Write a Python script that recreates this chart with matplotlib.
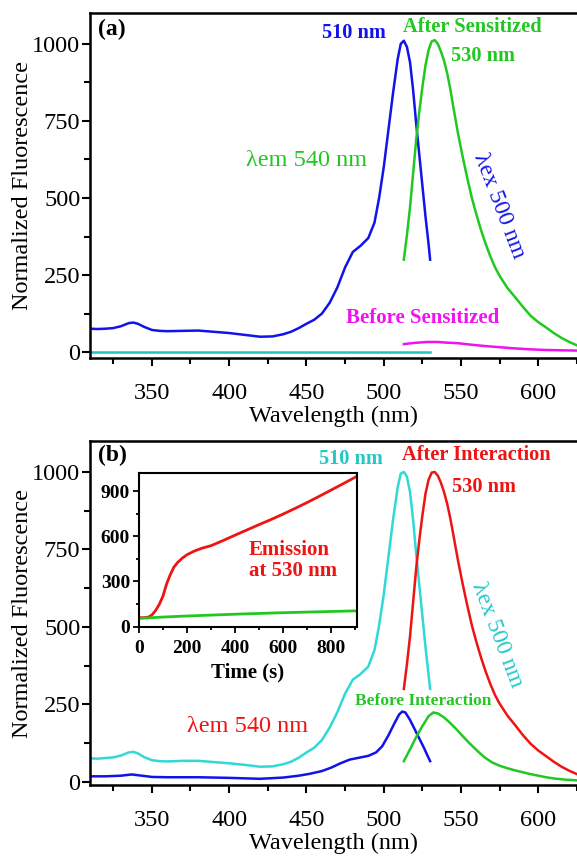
import matplotlib
matplotlib.use('Agg')
import matplotlib.pyplot as plt
from matplotlib.ticker import MultipleLocator

plt.rcParams['font.family'] = ['Liberation Serif', 'DejaVu Serif']

### panel (a) data: excitation (blue), emission after (green), before (magenta), baseline (teal)
ex_a_wl = [310, 315, 320, 325, 330, 335, 338, 341, 345, 350, 355, 360, 370, 380, 390, 400,
           410, 420, 428, 435, 440, 445, 450, 455, 460, 465, 470, 475, 480, 485, 490, 494,
           497, 500, 503, 506, 509, 511, 513, 515, 517, 519, 521, 523, 525, 527, 529, 530]
ex_a_val = [76, 75, 76, 78, 84, 94, 96, 92, 82, 72, 69, 68, 69, 70, 66, 62,
            56, 50, 51, 58, 66, 78, 92, 105, 125, 160, 210, 275, 325, 345, 370, 420,
            500, 600, 720, 840, 950, 1000, 1010, 990, 940, 850, 740, 640, 540, 440, 350, 300]

em_a_wl = [513, 515, 517, 519, 521, 523, 525, 527, 529, 531, 533, 535, 537, 539, 541, 543,
           545, 548, 551, 554, 557, 560, 563, 566, 569, 572, 575, 580, 585, 590, 595, 600,
           605, 610, 615, 620, 625]
em_a_val = [300, 380, 470, 580, 690, 780, 860, 930, 980, 1008, 1012, 1000, 975, 945, 905, 855,
            795, 710, 635, 565, 500, 445, 395, 350, 310, 275, 247, 208, 178, 147, 118, 97,
            80, 62, 46, 33, 22]

before_a_wl = [513, 520, 528, 535, 540, 548, 555, 565, 575, 585, 595, 605, 615, 625]
before_a_val = [26, 30, 33, 33, 31, 29, 25, 20, 16, 12, 9, 7, 6, 5]

base_a_wl = [310, 530]
base_a_val = [0, 0]

### panel (b) data
ex_b_wl = [310, 315, 320, 325, 330, 335, 338, 341, 345, 350, 355, 360, 370, 380, 390, 400,
           410, 420, 428, 435, 440, 445, 450, 455, 460, 465, 470, 475, 480, 485, 490, 494,
           497, 500, 503, 506, 509, 511, 513, 515, 517, 519, 521, 523, 525, 527, 529, 530]
ex_b_val = [76, 75, 77, 79, 85, 95, 97, 92, 80, 70, 67, 66, 68, 68, 64, 60,
            55, 49, 50, 57, 65, 78, 95, 110, 135, 175, 225, 285, 330, 348, 372, 425,
            505, 605, 725, 845, 950, 995, 1000, 985, 935, 845, 735, 635, 535, 435, 345, 300]

em_b_wl = [513, 515, 517, 519, 521, 523, 525, 527, 529, 531, 533, 535, 537, 539, 541, 543,
           545, 548, 551, 554, 557, 560, 563, 566, 569, 572, 575, 580, 585, 590, 595, 600,
           605, 610, 615, 620, 625]
em_b_val = [300, 380, 470, 580, 690, 780, 860, 930, 975, 998, 1000, 988, 965, 935, 898, 852,
            798, 715, 640, 570, 505, 450, 400, 355, 315, 280, 252, 214, 183, 151, 123, 101,
            83, 65, 49, 36, 25]

ex_before_b_wl = [310, 320, 330, 337, 342, 350, 360, 380, 400, 420, 435, 445, 452, 460, 466, 472,
                  478, 484, 490, 495, 499, 503, 507, 510, 512, 514, 517, 520, 523, 526, 528, 530]
ex_before_b_val = [18, 18, 20, 24, 21, 16, 15, 15, 13, 10, 14, 20, 26, 35, 46, 60,
                   72, 78, 84, 95, 115, 150, 190, 218, 227, 224, 200, 170, 140, 110, 88, 67]

em_before_b_wl = [513, 517, 521, 525, 529, 532, 535, 539, 543, 547, 551, 555, 561, 565, 570, 575,
                  580, 585, 590, 595, 600, 605, 610, 618, 625]
em_before_b_val = [67, 105, 145, 180, 212, 224, 221, 208, 190, 170, 148, 127, 98, 80, 63, 52,
                   44, 37, 31, 25, 20, 15, 11, 7, 5]

### inset: emission at 530 nm vs time
time_red = [0, 20, 40, 55, 70, 85, 100, 115, 130, 145, 160, 180, 200, 230, 260, 300,
            350, 400, 450, 500, 550, 600, 650, 700, 750, 800, 850, 900]
red_val = [60, 60, 64, 80, 110, 150, 205, 285, 345, 395, 425, 455, 478, 502, 520, 538,
           572, 608, 643, 678, 712, 748, 786, 825, 866, 908, 950, 993]
time_green = [0, 100, 200, 300, 400, 500, 600, 700, 800, 900]
green_val = [55, 64, 71, 77, 83, 88, 93, 97, 101, 105]

### colors
blue = '#1212ea'
green = '#22c822'
magenta = '#f012f0'
teal = '#20c4c4'
cyan = '#30d8d8'
red = '#ee1414'

W, H = 577.0, 856.0
fig = plt.figure(figsize=(5.77, 8.56), dpi=100)
ax_a = fig.add_axes([90 / W, 1 - 358 / H, 1 - 90 / W, (358 - 13) / H])
ax_b = fig.add_axes([90 / W, 1 - 785 / H, 1 - 90 / W, (785 - 441) / H])
ax_in = fig.add_axes([139 / W, 1 - 626.7 / H, (356.7 - 139) / W, (626.7 - 473) / H])


def style_main(ax, ylo):
    ax.set_xlim(310, 625)
    ax.set_ylim(ylo, 1100)
    ax.xaxis.set_major_locator(MultipleLocator(50))
    ax.xaxis.set_minor_locator(MultipleLocator(25))
    ax.yaxis.set_major_locator(MultipleLocator(250))
    ax.yaxis.set_minor_locator(MultipleLocator(125))
    ax.tick_params(which='both', direction='out', top=False, right=False, width=1.5, labelsize=17.5)
    ax.tick_params(which='major', length=6)
    ax.tick_params(which='minor', length=4)
    ax.tick_params(axis='x', which='both', pad=12)
    ax.tick_params(axis='y', which='both', pad=1)
    ax.spines['right'].set_visible(False)
    for s in ['top', 'bottom', 'left']:
        ax.spines[s].set_linewidth(1.8)
    ax.set_xlabel('Wavelength (nm)', fontsize=17.5)
    ax.set_ylabel('Normalized Fluorescence', fontsize=17.5)
    ax.xaxis.set_label_coords(0.5, -0.14)
    ax.yaxis.set_label_coords(-0.118, 0.5)


### panel (a)
ax_a.plot(ex_a_wl, ex_a_val, color=blue, lw=1.8)
ax_a.plot(em_a_wl, em_a_val, color=green, lw=1.8)
ax_a.plot(before_a_wl, before_a_val, color=magenta, lw=1.8)
ax_a.plot(base_a_wl, base_a_val, color=teal, lw=1.8)
style_main(ax_a, -19)

ax_a.text(0.016, 0.952, '(a)', transform=ax_a.transAxes, fontsize=17, fontweight='bold', ha='left', va='center')
ax_a.text(481, 1036, '510 nm', color=blue, fontsize=14.7, fontweight='bold', ha='center', va='center')
ax_a.text(557, 1055, 'After Sensitized', color=green, fontsize=14.7, fontweight='bold', ha='center', va='center')
ax_a.text(564, 961, '530 nm', color=green, fontsize=14.7, fontweight='bold', ha='center', va='center')
ax_a.text(450, 621, 'λem 540 nm', color=green, fontsize=17.5, ha='center', va='center')
ax_a.text(574.6, 476, 'λex 500 nm', color=blue, fontsize=17, ha='center', va='center',
          rotation=-69, rotation_mode='anchor')
ax_a.text(525, 110, 'Before Sensitized', color=magenta, fontsize=15, fontweight='bold', ha='center', va='center')

### panel (b)
ax_b.plot(ex_b_wl, ex_b_val, color=cyan, lw=1.8)
ax_b.plot(em_b_wl, em_b_val, color=red, lw=1.8)
ax_b.plot(ex_before_b_wl, ex_before_b_val, color=blue, lw=1.8)
ax_b.plot(em_before_b_wl, em_before_b_val, color=green, lw=1.8)
style_main(ax_b, -10)

ax_b.text(0.016, 0.957, '(b)', transform=ax_b.transAxes, fontsize=17, fontweight='bold', ha='left', va='center')
ax_b.text(479, 1041, '510 nm', color='#22c8c8', fontsize=14.7, fontweight='bold', ha='center', va='center')
ax_b.text(560, 1054, 'After Interaction', color=red, fontsize=14.7, fontweight='bold', ha='center', va='center')
ax_b.text(565, 952, '530 nm', color=red, fontsize=14.7, fontweight='bold', ha='center', va='center')
ax_b.text(573.3, 473, 'λex 500 nm', color='#22c8c8', fontsize=17, ha='center', va='center',
          rotation=-69, rotation_mode='anchor')
ax_b.text(525.4, 260, 'Before Interaction', color=green, fontsize=12.5, fontweight='bold', ha='center', va='center')
ax_b.text(412, 180, 'λem 540 nm', color=red, fontsize=17.5, ha='center', va='center')

### inset
ax_in.plot(time_red, red_val, color=red, lw=2)
ax_in.plot(time_green, green_val, color=green, lw=2)
ax_in.set_xlim(0, 905)
ax_in.set_ylim(0, 1020)
ax_in.xaxis.set_major_locator(MultipleLocator(200))
ax_in.xaxis.set_minor_locator(MultipleLocator(100))
ax_in.yaxis.set_major_locator(MultipleLocator(300))
ax_in.yaxis.set_minor_locator(MultipleLocator(150))
ax_in.tick_params(which='both', direction='out', top=False, right=False, width=1.3, labelsize=14)
ax_in.tick_params(which='major', length=4.5)
ax_in.tick_params(which='minor', length=2.5)
ax_in.tick_params(axis='x', which='both', pad=5)
ax_in.tick_params(axis='y', which='both', pad=2)
for s in ax_in.spines.values():
    s.set_linewidth(1.5)
for lbl in ax_in.get_xticklabels() + ax_in.get_yticklabels():
    lbl.set_fontweight('bold')
ax_in.set_xlabel('Time (s)', fontsize=15, fontweight='bold')
ax_in.xaxis.set_label_coords(0.5, -0.23)
ax_in.text(0.505, 0.43, 'Emission\nat 530 nm', transform=ax_in.transAxes, color=red, fontsize=15,
           fontweight='bold', ha='left', va='center', linespacing=1.1)

plt.savefig('out.png', dpi=100)
